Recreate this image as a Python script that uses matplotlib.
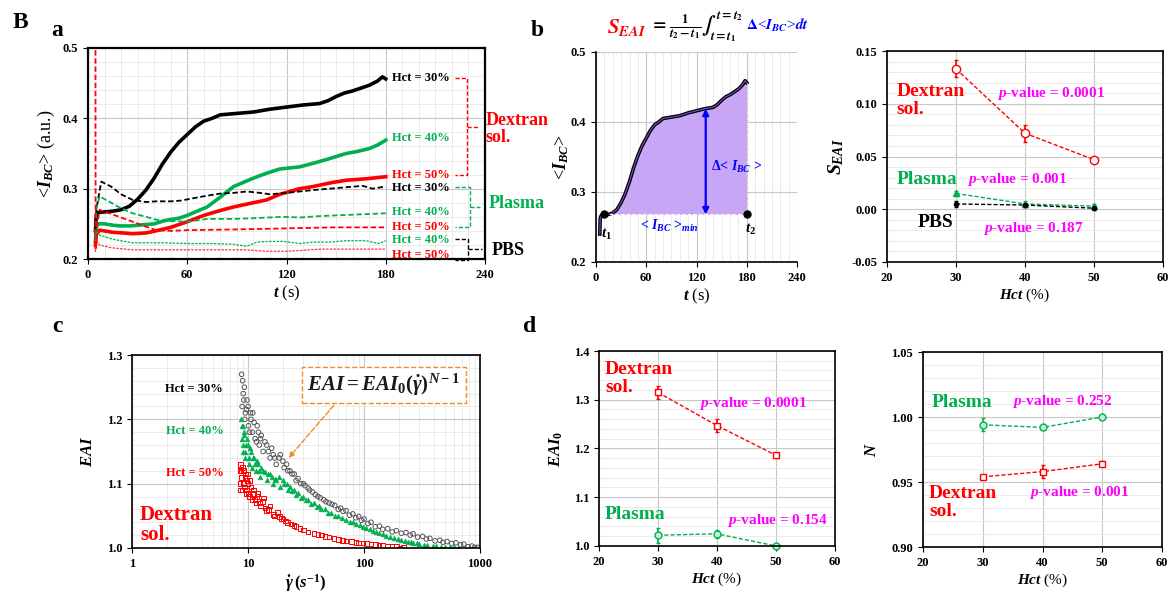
import numpy as np
import matplotlib.pyplot as plt
from matplotlib.ticker import MultipleLocator, FormatStrFormatter, NullFormatter, LogLocator

plt.rcParams['font.family'] = ['Liberation Serif', 'DejaVu Serif']
plt.rcParams['font.weight'] = 'bold'
plt.rcParams['mathtext.fontset'] = 'custom'
plt.rcParams['mathtext.rm'] = 'Liberation Serif:bold'
plt.rcParams['mathtext.it'] = 'Liberation Serif:italic:bold'
plt.rcParams['mathtext.bf'] = 'Liberation Serif:bold'
plt.rcParams['axes.linewidth'] = 1.2

RED = '#ff0000'
GREEN = '#00b050'
MAG = '#ff00ff'
BLUE = '#0000ff'

# ---- panel a : <I_BC> vs time ----
t_dex30 = [4.5, 5, 6, 10, 15, 20, 25, 30, 35, 40, 45, 50, 55, 60, 65, 70, 75, 80, 90, 100, 110,
           120, 130, 140, 145, 150, 155, 160, 165, 170, 175, 178, 180]
v_dex30 = [0.24, 0.262, 0.266, 0.267, 0.268, 0.27, 0.275, 0.285, 0.298, 0.315, 0.335, 0.352, 0.366,
           0.377, 0.388, 0.396, 0.4, 0.405, 0.407, 0.409, 0.413, 0.416, 0.419, 0.421, 0.425, 0.431,
           0.436, 0.439, 0.443, 0.447, 0.453, 0.459, 0.456]
t_dex40 = [4.5, 5, 6, 10, 15, 20, 25, 30, 40, 47, 55, 60, 65, 72, 80, 88, 95, 100, 108, 116, 128,
           136, 145, 156, 163, 170, 175, 180]
v_dex40 = [0.225, 0.245, 0.25, 0.25, 0.248, 0.247, 0.247, 0.248, 0.25, 0.255, 0.258, 0.262, 0.267,
           0.274, 0.288, 0.303, 0.31, 0.315, 0.322, 0.328, 0.331, 0.336, 0.342, 0.35, 0.353, 0.357,
           0.362, 0.369]
t_dex50 = [4.5, 5, 7, 15, 27, 35, 41, 50, 60, 70, 80, 88, 100, 108, 116, 128, 136, 146, 156, 168, 180]
v_dex50 = [0.22, 0.235, 0.241, 0.238, 0.236, 0.237, 0.24, 0.245, 0.253, 0.262, 0.269, 0.274, 0.28,
           0.284, 0.292, 0.3, 0.303, 0.308, 0.312, 0.314, 0.317]
t_pla30 = [4.5, 5, 8, 14, 20, 27, 35, 41, 50, 56, 65, 72, 80, 88, 96, 104, 110, 120, 128, 136,
           146, 156, 166, 172, 180]
v_pla30 = [0.24, 0.27, 0.31, 0.303, 0.292, 0.284, 0.281, 0.282, 0.282, 0.283, 0.287, 0.29, 0.293,
           0.294, 0.296, 0.294, 0.292, 0.294, 0.296, 0.298, 0.3, 0.302, 0.304, 0.3, 0.303]
t_pla40 = [4.5, 5, 7, 14, 20, 27, 35, 41, 50, 60, 72, 88, 100, 118, 128, 140, 160, 180]
v_pla40 = [0.235, 0.27, 0.289, 0.28, 0.272, 0.265, 0.26, 0.256, 0.254, 0.253, 0.257, 0.257, 0.258,
           0.26, 0.259, 0.261, 0.263, 0.265]
t_pla50 = [4.5, 4.6, 5, 7, 14, 20, 27, 35, 41, 50, 60, 88, 110, 128, 150, 180]
v_pla50 = [0.52, 0.215, 0.24, 0.27, 0.264, 0.259, 0.253, 0.246, 0.241, 0.24, 0.241, 0.242, 0.243,
           0.244, 0.245, 0.245]
t_pbs40 = [4.5, 5, 7, 15, 27, 45, 60, 75, 88, 96, 102, 110, 118, 128, 136, 146, 156, 168, 176, 180]
v_pbs40 = [0.225, 0.24, 0.234, 0.228, 0.223, 0.223, 0.222, 0.222, 0.221, 0.218, 0.224, 0.225, 0.225,
           0.222, 0.224, 0.224, 0.226, 0.226, 0.222, 0.226]
t_pbs50 = [4.5, 5, 7, 14, 27, 45, 60, 80, 95, 108, 120, 128, 140, 160, 180]
v_pbs50 = [0.21, 0.226, 0.22, 0.216, 0.213, 0.213, 0.213, 0.213, 0.213, 0.211, 0.211, 0.212, 0.214,
           0.214, 0.214]

# ---- panel b : S_EAI vs Hct ----
hct = [30, 40, 50]
s_dex = [0.133, 0.072, 0.047]
s_dex_err = [0.008, 0.008, 0.002]
s_pla = [0.015, 0.005, 0.003]
s_pla_err = [0.002, 0.003, 0.002]
s_pbs = [0.005, 0.004, 0.001]
s_pbs_err = [0.003, 0.002, 0.002]

g30 = [8.8, 8.9, 9.0, 9.1, 9.3, 9.5, 9.8, 10.0, 10.3, 10.6, 11, 11.5, 12, 12.5, 13, 14, 15, 16, 17,
       18.5, 20, 21.5, 23, 25, 27, 30, 33, 36, 40, 45, 50, 56, 63, 70, 80, 90, 100, 115, 136, 160,
       190, 230, 265, 320, 370, 450, 520, 620, 725, 850, 950,
       9.2, 9.4, 9.7, 10.1, 10.5, 10.9, 11.3, 11.8, 12.3, 12.8, 13.5, 14.5, 15.5, 16.5, 17.5, 19,
       20.5, 22, 24, 26, 28.5, 31, 34, 38, 42, 47, 53, 60, 66, 75, 85, 95, 108, 125, 145, 175, 210,
       250, 290, 345, 410, 480, 570, 680, 790, 900]
e30 = [1.27, 1.22, 1.26, 1.24, 1.25, 1.21, 1.23, 1.22, 1.18, 1.2, 1.21, 1.17, 1.19, 1.16, 1.175,
       1.165, 1.15, 1.155, 1.14, 1.14, 1.135, 1.13, 1.12, 1.115, 1.108, 1.1, 1.093, 1.087, 1.08,
       1.075, 1.07, 1.066, 1.062, 1.058, 1.053, 1.049, 1.045, 1.04, 1.034, 1.03, 1.027, 1.024, 1.022,
       1.018, 1.015, 1.012, 1.01, 1.008, 1.006, 1.003, 1.001,
       1.23, 1.2, 1.215, 1.19, 1.21, 1.18, 1.195, 1.165, 1.18, 1.17, 1.15, 1.16, 1.14, 1.145, 1.13,
       1.145, 1.125, 1.12, 1.115, 1.105, 1.1, 1.097, 1.09, 1.083, 1.078, 1.072, 1.068, 1.06, 1.057,
       1.051, 1.047, 1.043, 1.038, 1.033, 1.029, 1.025, 1.023, 1.02, 1.017, 1.014, 1.011, 1.009,
       1.007, 1.005, 1.002, 1.001]
g40 = [8.7, 8.8, 9.0, 9.1, 9.3, 9.5, 9.8, 10, 10.3, 10.6, 11, 11.5, 12, 12.5, 13, 14, 15, 16, 17,
       18.5, 20, 21.5, 23, 25, 27, 30, 33, 37, 41, 46, 52, 60, 70, 80, 92, 105, 120, 136, 155, 180,
       210, 240, 265, 300, 350, 420, 500, 600, 650,
       8.8, 9.0, 9.2, 9.4, 9.7, 10.1, 10.5, 10.9, 11.3, 11.8, 12.3, 12.8, 13.5, 14.5, 15.5, 16.5,
       17.5, 19, 20.5, 22, 24, 26, 28.5, 31.5, 35, 39, 43, 49, 56, 64, 75, 86, 98, 112, 128, 145,
       168, 195, 225, 255, 285, 330, 390, 460, 550]
e40 = [1.2, 1.17, 1.19, 1.16, 1.18, 1.15, 1.17, 1.16, 1.14, 1.15, 1.14, 1.13, 1.135, 1.12, 1.125,
       1.118, 1.115, 1.11, 1.108, 1.11, 1.105, 1.1, 1.095, 1.09, 1.086, 1.08, 1.074, 1.07, 1.065,
       1.06, 1.055, 1.05, 1.044, 1.04, 1.035, 1.031, 1.027, 1.023, 1.019, 1.015, 1.012, 1.01, 1.008,
       1.006, 1.004, 1.003, 1.002, 1.001, 1.0,
       1.19, 1.15, 1.175, 1.14, 1.16, 1.13, 1.155, 1.125, 1.14, 1.12, 1.13, 1.11, 1.12, 1.105, 1.115,
       1.1, 1.105, 1.095, 1.1, 1.09, 1.088, 1.082, 1.078, 1.074, 1.068, 1.064, 1.06, 1.055, 1.05,
       1.046, 1.041, 1.037, 1.033, 1.029, 1.025, 1.021, 1.017, 1.014, 1.011, 1.009, 1.007, 1.005,
       1.003, 1.002, 1.001]
g50 = [8.5, 8.6, 8.7, 8.9, 9.0, 9.2, 9.4, 9.6, 9.8, 10, 10.3, 10.6, 11, 11.5, 12, 12.5, 13.3, 14,
       15, 16.5, 18.6, 20, 22, 26, 30, 37, 43, 50, 60, 70, 85, 98, 115, 135, 160, 190, 220,
       8.5, 8.6, 8.8, 9.1, 9.3, 9.5, 9.7, 9.9, 10.1, 10.4, 10.8, 11.2, 11.7, 12.2, 12.8, 13.6, 14.5,
       15.5, 17, 18, 19.5, 21, 23.5, 25, 28, 33, 40, 46, 55, 65, 78, 90, 105, 125, 145, 175, 205]
e50 = [1.1, 1.13, 1.12, 1.09, 1.125, 1.1, 1.11, 1.085, 1.105, 1.1, 1.08, 1.095, 1.085, 1.075, 1.08,
       1.07, 1.072, 1.062, 1.06, 1.052, 1.049, 1.045, 1.04, 1.033, 1.028, 1.023, 1.02, 1.017, 1.013,
       1.011, 1.009, 1.008, 1.006, 1.004, 1.003, 1.002, 1.001,
       1.12, 1.09, 1.11, 1.12, 1.095, 1.115, 1.09, 1.115, 1.085, 1.105, 1.075, 1.09, 1.07, 1.085,
       1.065, 1.078, 1.058, 1.065, 1.05, 1.055, 1.046, 1.042, 1.037, 1.035, 1.03, 1.025, 1.021,
       1.018, 1.015, 1.012, 1.01, 1.008, 1.007, 1.005, 1.004, 1.002, 1.0]

# ---- panel d : EAI0 and N vs Hct ----
eai0_dex = [1.315, 1.247, 1.186]
eai0_dex_err = [0.013, 0.013, 0.005]
eai0_pla = [1.022, 1.025, 1.0]
eai0_pla_err = [0.015, 0.008, 0.002]
n_pla = [0.994, 0.992, 1.0]
n_pla_err = [0.005, 0.002, 0.001]
n_dex = [0.954, 0.958, 0.964]
n_dex_err = [0.001, 0.005, 0.002]

fig = plt.figure(figsize=(11.72, 5.95), dpi=100)


def box(x0, y0, x1, y1):
    return fig.add_axes([x0 / 1172, 1 - y1 / 595, (x1 - x0) / 1172, (y1 - y0) / 595])


def grids(ax, minor=True):
    ax.grid(which='major', color='#c8c8c8', lw=0.8)
    if minor:
        ax.grid(which='minor', color='#e8e8e8', lw=0.6)
    ax.set_axisbelow(True)
    ax.tick_params(which='both', direction='out', labelsize=9)
    ax.tick_params(which='minor', length=0)


# ================= a =================
ax = box(88, 48, 485, 259)
ax.plot(t_dex30, v_dex30, color='k', lw=2.6)
ax.plot(t_dex40, v_dex40, color=GREEN, lw=2.6)
ax.plot(t_dex50, v_dex50, color=RED, lw=2.6)
ax.plot(t_pla30, v_pla30, color='k', lw=1.3, ls=(0, (3, 1.5)))
ax.plot(t_pla40, v_pla40, color=GREEN, lw=1.3, ls=(0, (3, 1.5)))
ax.plot(t_pla50, v_pla50, color=RED, lw=1.3, ls=(0, (3, 1.5)))
ax.plot(t_pbs40, v_pbs40, color=GREEN, lw=0.9, ls=(0, (2, 1)))
ax.plot(t_pbs50, v_pbs50, color=RED, lw=0.9, ls=(0, (2, 1)), alpha=0.8)
ax.set_xlim(0, 240)
ax.set_ylim(0.2, 0.5)
ax.xaxis.set_major_locator(MultipleLocator(60))
ax.xaxis.set_minor_locator(MultipleLocator(10))
ax.yaxis.set_major_locator(MultipleLocator(0.1))
ax.yaxis.set_minor_locator(MultipleLocator(0.02))
ax.yaxis.set_major_formatter(FormatStrFormatter('%.1f'))
grids(ax)
for s in ax.spines.values():
    s.set_linewidth(1.6)
ax.set_xlabel(r'$t$ (s)', fontsize=12, labelpad=2)
ax.set_ylabel(r'<$I_{BC}$> (a.u.)', fontsize=13, labelpad=4)

lab_y = [0.457, 0.372, 0.319, 0.301, 0.267, 0.246, 0.227, 0.205]
lab_t = ['Hct = 30%', 'Hct = 40%', 'Hct = 50%', 'Hct = 30%', 'Hct = 40%', 'Hct = 50%',
         'Hct = 40%', 'Hct = 50%']
lab_c = ['k', GREEN, RED, 'k', GREEN, RED, GREEN, RED]
for yy, tt, cc in zip(lab_y, lab_t, lab_c):
    ax.text(184, yy, tt, color=cc, fontsize=9, va='center', ha='left')


def bracket(ax, y1, y2, xs, xv, xe, color):
    ym = (y1 + y2) / 2
    kw = dict(color=color, lw=1.0, ls=(0, (3, 1.5)), clip_on=False)
    ax.plot([xs, xv, xv, xs], [y1, y1, y2, y2], **kw)
    ax.plot([xv, xe], [ym, ym], **kw)


bracket(ax, 0.457, 0.319, 222, 229, 236, RED)
bracket(ax, 0.302, 0.245, 222, 231, 237, GREEN)
bracket(ax, 0.229, 0.199, 222, 230, 238, 'k')
ax.text(240.5, 0.385, 'Dextran\nsol.', color=RED, fontsize=13, va='center', linespacing=1.0)
ax.text(242, 0.279, 'Plasma', color=GREEN, fontsize=13, va='center')
ax.text(244, 0.212, 'PBS', color='k', fontsize=13, va='center')

# ================= b (left) =================
ax2 = box(596, 52, 797, 262)
tt = np.array(t_dex30)
vv = np.array(v_dex30)
m = tt >= 10
ax2.fill_between(tt[m], vv[m], 0.268, color='#c7a6f6', lw=0)
ax2.plot(tt, vv, color='k', lw=2.6)
ax2.plot(tt, vv, color='#7a50c8', lw=0.8)
ax2.plot([10, 180], [0.268, 0.268], color='white', lw=0.8, ls=(0, (3, 2)))
ax2.plot([180, 180], [0.268, 0.456], color='#dddddd', lw=0.8, ls=(0, (3, 2)))
ax2.plot([10, 180], [0.268, 0.268], 'o', color='k', ms=5, ls='none')
ax2.annotate('', xy=(131, 0.419), xytext=(131, 0.268),
             arrowprops=dict(arrowstyle='<|-|>', color=BLUE, lw=1.6, mutation_scale=9,
                             shrinkA=0, shrinkB=0))
ax2.text(168, 0.336, r'$\Delta$< $I_{BC}$ >', color=BLUE, fontsize=10, ha='center', va='center')
ax2.text(88, 0.251, r'< $I_{BC}$ >$_{min}$', color=BLUE, fontsize=10, ha='center', va='center')
ax2.text(12, 0.24, r'$t_1$', color='k', fontsize=11, ha='center', va='center')
ax2.text(184, 0.246, r'$t_2$', color='k', fontsize=11, ha='center', va='center')
ax2.set_xlim(0, 240)
ax2.set_ylim(0.2, 0.5)
ax2.xaxis.set_major_locator(MultipleLocator(60))
ax2.xaxis.set_minor_locator(MultipleLocator(10))
ax2.yaxis.set_major_locator(MultipleLocator(0.1))
ax2.yaxis.set_major_formatter(FormatStrFormatter('%.1f'))
ax2.grid(which='major', color='#c8c8c8', lw=0.8)
ax2.grid(which='minor', axis='x', color='#e8e8e8', lw=0.6)
ax2.set_axisbelow(True)
ax2.tick_params(which='both', direction='out', labelsize=9)
ax2.tick_params(which='minor', length=0)
ax2.spines['top'].set_visible(False)
ax2.spines['right'].set_visible(False)
ax2.set_xlabel(r'$t$ (s)', fontsize=12, labelpad=2)
ax2.set_ylabel(r'<$I_{BC}$>', fontsize=13, labelpad=0)

# formula above panel b, pieces chained left to right
fy = 1 - 27 / 595
f1 = fig.text(607 / 1172, fy, r'$S_{EAI}$', color=RED, fontsize=15, va='center',
              math_fontfamily='stix', fontweight='normal')
f2 = ax2.annotate(r'$=\frac{1}{t_2-t_1}\int_{t=t_1}^{t=t_2}$', xy=(1, 0.5), xycoords=f1,
                  xytext=(3, 0), textcoords='offset points', va='center', ha='left',
                  fontsize=13, math_fontfamily='stix', fontweight='normal',
                  annotation_clip=False)
ax2.annotate(r'$\Delta$<$I_{BC}$>$dt$', xy=(1, 0.55), xycoords=f2, xytext=(2, 0),
             textcoords='offset points', va='center', ha='left', color=BLUE, fontsize=11,
             math_fontfamily='stix', fontweight='normal', annotation_clip=False)

# ================= b (right) =================
ax3 = box(887, 51, 1163, 262)
ax3.errorbar(hct, s_dex, yerr=s_dex_err, color=RED, ls=(0, (3, 1.5)), lw=1, marker='o', ms=6,
             mfc='white', mec=RED, capsize=1.5, elinewidth=1.2)
ax3.errorbar(hct, s_pla, yerr=s_pla_err, color=GREEN, ls=(0, (3, 1.5)), lw=1, marker='^', ms=5,
             capsize=1.5, elinewidth=1.2)
ax3.errorbar(hct, s_pbs, yerr=s_pbs_err, color='k', ls=(0, (3, 1.5)), lw=1, marker='o', ms=3,
             capsize=1.5, elinewidth=1.2)
ax3.set_xlim(20, 60)
ax3.set_ylim(-0.05, 0.15)
ax3.xaxis.set_major_locator(MultipleLocator(10))
ax3.yaxis.set_major_locator(MultipleLocator(0.05))
ax3.yaxis.set_minor_locator(MultipleLocator(0.01))
ax3.yaxis.set_major_formatter(FormatStrFormatter('%.2f'))
grids(ax3)
ax3.set_xlabel(r'$Hct$ (%)', fontsize=11, labelpad=2)
ax3.set_ylabel(r'$S_{EAI}$', fontsize=14, labelpad=4)
ax3.text(21.4, 0.103, 'Dextran\nsol.', color=RED, fontsize=14, va='center', linespacing=1.1)
ax3.text(36, 0.11, r'$p$-value = 0.0001', color=MAG, fontsize=11, va='center')
ax3.text(21.4, 0.028, 'Plasma', color=GREEN, fontsize=14, va='center')
ax3.text(31.6, 0.028, r'$p$-value = 0.001', color=MAG, fontsize=11, va='center')
ax3.text(24.5, -0.013, 'PBS', color='k', fontsize=14, va='center')
ax3.text(33.9, -0.018, r'$p$-value = 0.187', color=MAG, fontsize=11, va='center')

# ================= c =================
ax4 = box(132, 355, 480, 548)
ax4.scatter(g30, e30, s=11, facecolors='none', edgecolors='#555555', lw=0.7)
ax4.scatter(g40, e40, s=11, marker='^', color=GREEN, lw=0.5)
ax4.scatter(g50, e50, s=11, marker='s', facecolors='none', edgecolors=RED, lw=0.7)
ax4.set_xscale('log')
ax4.set_xlim(1, 1000)
ax4.set_ylim(1.0, 1.3)
ax4.set_xticks([1, 10, 100, 1000])
ax4.set_xticklabels(['1', '10', '100', '1000'])
ax4.xaxis.set_minor_locator(LogLocator(base=10, subs=np.arange(2, 10)))
ax4.xaxis.set_minor_formatter(NullFormatter())
ax4.yaxis.set_major_locator(MultipleLocator(0.1))
ax4.yaxis.set_minor_locator(MultipleLocator(0.02))
ax4.yaxis.set_major_formatter(FormatStrFormatter('%.1f'))
grids(ax4)
ax4.set_xlabel(r'$\dot{\gamma}\,(s^{-1})$', fontsize=12, labelpad=2)
ax4.set_ylabel(r'$EAI$', fontsize=12, labelpad=8)
ax4.text(1.92, 1.247, 'Hct = 30%', color='k', fontsize=9, va='center')
ax4.text(1.95, 1.182, 'Hct = 40%', color=GREEN, fontsize=9, va='center')
ax4.text(1.95, 1.117, 'Hct = 50%', color=RED, fontsize=9, va='center')
ax4.text(1.17, 1.035, 'Dextran\nsol.', color=RED, fontsize=15, va='center', linespacing=1.0)
ax4.text(0.724, 0.845, r'$EAI = EAI_0(\dot{\gamma})^{N-1}$', transform=ax4.transAxes,
         fontsize=15, ha='center', va='center', color='#1a1a1a',
         bbox=dict(boxstyle='square,pad=0.25', fc='white', ec='#f08a24', ls='--', lw=1))
ax4.annotate('', xy=(0.445, 0.456), xytext=(0.585, 0.75), xycoords='axes fraction',
             arrowprops=dict(arrowstyle='-|>', color='#f08a24', lw=1, ls='--',
                             mutation_scale=8))

# ================= d (left) =================
ax5 = box(599, 351, 835, 546)
ax5.errorbar(hct, eai0_dex, yerr=eai0_dex_err, color=RED, ls=(0, (3, 1.5)), lw=1, marker='s',
             ms=5, mfc='white', mec=RED, capsize=1.5, elinewidth=1.2)
ax5.errorbar(hct, eai0_pla, yerr=eai0_pla_err, color=GREEN, ls=(0, (3, 1.5)), lw=1, marker='o',
             ms=5, mfc='#bff0d0', mec=GREEN, capsize=1.5, elinewidth=1.2, clip_on=False)
ax5.set_xlim(20, 60)
ax5.set_ylim(1.0, 1.4)
ax5.xaxis.set_major_locator(MultipleLocator(10))
ax5.yaxis.set_major_locator(MultipleLocator(0.1))
ax5.yaxis.set_minor_locator(MultipleLocator(0.02))
ax5.yaxis.set_major_formatter(FormatStrFormatter('%.1f'))
grids(ax5)
ax5.set_xlabel(r'$Hct$ (%)', fontsize=11, labelpad=2)
ax5.set_ylabel(r'$EAI_0$', fontsize=12, labelpad=6)
ax5.text(21, 1.343, 'Dextran\nsol.', color=RED, fontsize=14, va='center', linespacing=1.1)
ax5.text(37, 1.293, r'$p$-value = 0.0001', color=MAG, fontsize=11, va='center')
ax5.text(21, 1.064, 'Plasma', color=GREEN, fontsize=14, va='center')
ax5.text(41.7, 1.053, r'$p$-value = 0.154', color=MAG, fontsize=11, va='center')

# ================= d (right) =================
ax6 = box(923, 352, 1162, 547)
ax6.errorbar(hct, n_pla, yerr=n_pla_err, color=GREEN, ls=(0, (3, 1.5)), lw=1, marker='o',
             ms=5, mfc='#bff0d0', mec=GREEN, capsize=1.5, elinewidth=1.2)
ax6.errorbar(hct, n_dex, yerr=n_dex_err, color=RED, ls=(0, (3, 1.5)), lw=1, marker='s',
             ms=5, mfc='white', mec=RED, capsize=1.5, elinewidth=1.2)
ax6.set_xlim(20, 60)
ax6.set_ylim(0.9, 1.05)
ax6.xaxis.set_major_locator(MultipleLocator(10))
ax6.yaxis.set_major_locator(MultipleLocator(0.05))
ax6.yaxis.set_minor_locator(MultipleLocator(0.01))
ax6.yaxis.set_major_formatter(FormatStrFormatter('%.2f'))
grids(ax6)
ax6.set_xlabel(r'$Hct$ (%)', fontsize=11, labelpad=2)
ax6.set_ylabel(r'$N$', fontsize=12, labelpad=8)
ax6.text(21.5, 1.0115, 'Plasma', color=GREEN, fontsize=14, va='center')
ax6.text(34.9, 1.012, r'$p$-value = 0.252', color=MAG, fontsize=11, va='center')
ax6.text(21, 0.934, 'Dextran\nsol.', color=RED, fontsize=14, va='center', linespacing=1.1)
ax6.text(37.7, 0.942, r'$p$-value = 0.001', color=MAG, fontsize=11, va='center')

# panel letters
for lx, ly, lt in [(20, 22, 'B'), (57, 30, 'a'), (537, 30, 'b'), (57, 327, 'c'), (530, 327, 'd')]:
    fig.text(lx / 1172, 1 - ly / 595, lt, fontsize=17, ha='center', va='center')

fig.savefig('out.png', dpi=100)
